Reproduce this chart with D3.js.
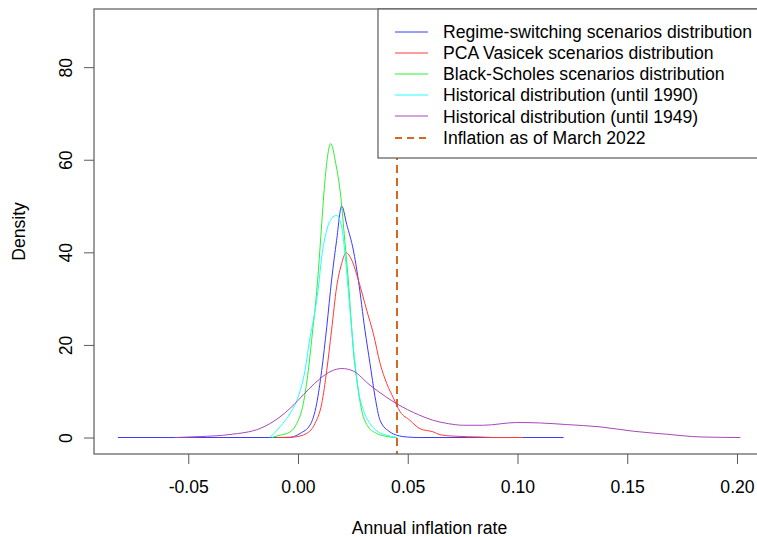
<!DOCTYPE html>
<html>
<head>
<meta charset="utf-8">
<script src="https://cdn.jsdelivr.net/npm/d3@7"></script>
<style>
  html, body { margin: 0; padding: 0; background: #fff; }
  svg { display: block; font-family: "Liberation Sans", Arial, sans-serif; }
</style>
</head>
<body>
<svg id="chart" width="757" height="537"></svg>
<script>
// ---- data ----
const xTicks = [-0.05, 0, 0.05, 0.10, 0.15, 0.20];
const xTickLabels = ["-0.05", "0.00", "0.05", "0.10", "0.15", "0.20"];
const yTicks = [0, 20, 40, 60, 80];
const yTickLabels = ["0", "20", "40", "60", "80"];

const regimeX = [-0.082, -0.004, 0.001, 0.0055, 0.0085, 0.0108, 0.0131, 0.0153, 0.0176, 0.0199, 0.0222, 0.0252, 0.0275, 0.0305, 0.0328, 0.0351, 0.0374, 0.0419, 0.045, 0.05, 0.055, 0.121];
const regimeY = [0, 0, 0.9, 2.7, 7.3, 14.5, 23.9, 34, 42.6, 50.0, 46, 40.5, 34, 23.2, 16, 8.8, 3.7, 1.2, 0.5, 0.1, 0, 0];

const pcaX = [-0.01, -0.002, 0.004, 0.0077, 0.0108, 0.0131, 0.0153, 0.0176, 0.0199, 0.0219, 0.0245, 0.0275, 0.0313, 0.0343, 0.0374, 0.0404, 0.0434, 0.0465, 0.051, 0.0556, 0.0617, 0.0647, 0.0708, 0.0837, 0.09, 0.1025];
const pcaY = [0, 0.1, 0.9, 3.0, 7.3, 14.5, 23.2, 32.5, 37.6, 39.9, 38.3, 34, 27.5, 22.5, 16, 11.7, 8.6, 5.6, 3.7, 1.9, 1.2, 0.6, 0.3, 0.1, 0, 0];

const bsX = [-0.012, -0.0082, -0.0036, -0.0006, 0.0024, 0.0047, 0.0067, 0.0077, 0.0093, 0.0108, 0.0123, 0.0149, 0.0172, 0.0195, 0.0213, 0.0229, 0.0241, 0.0252, 0.027, 0.029, 0.032, 0.0358, 0.0396, 0.045];
const bsY = [0, 0.5, 1.2, 3.0, 7.3, 14.5, 23.2, 27.5, 36.1, 46.2, 55.6, 63.5, 59.2, 52, 42.6, 34, 26, 18.9, 11.7, 5.9, 2.3, 0.9, 0.3, 0];

const hist1990X = [-0.0128, -0.0082, -0.0036, 0.0001, 0.0032, 0.0055, 0.007, 0.0093, 0.0108, 0.0131, 0.0153, 0.0176, 0.0199, 0.0214, 0.0229, 0.0245, 0.026, 0.0275, 0.0298, 0.0328, 0.0366, 0.0404, 0.045];
const hist1990Y = [0, 2.3, 5.2, 8.8, 14.5, 21.7, 25.3, 32.5, 39, 44.8, 47.3, 48, 45.5, 39.7, 31.8, 23.2, 16, 10.2, 5.9, 3.0, 1.2, 0.5, 0];

const hist1949X = [-0.056, -0.0446, -0.031, -0.0173, -0.0128, -0.0036, 0.0, 0.005, 0.01, 0.015, 0.02, 0.025, 0.0328, 0.04, 0.045, 0.05, 0.055, 0.0617, 0.0685, 0.0753, 0.0844, 0.0996, 0.11, 0.1224, 0.1376, 0.1528, 0.168, 0.1831, 0.2015];
const hist1949Y = [0, 0.2, 0.65, 1.95, 3.0, 6.3, 8.0, 10.5, 12.7, 14.3, 14.9, 14.4, 11.3, 8.8, 7.3, 6.0, 4.9, 3.7, 3.0, 2.65, 2.65, 3.24, 3.15, 2.8, 2.3, 1.36, 0.71, 0.13, 0];

const inflationMarch2022 = 0.0451;

const seriesNames = [
  "Regime-switching scenarios distribution",
  "PCA Vasicek scenarios distribution",
  "Black-Scholes scenarios distribution",
  "Historical distribution (until 1990)",
  "Historical distribution (until 1949)"
];
const seriesColors = ["#3a3aff", "#ff3a3a", "#2ef02e", "#22ffff", "#a848b8"];
const inflationLabel = "Inflation as of March 2022";
const inflationColor = "#D2691E";

const seriesData = [
  [regimeX, regimeY],
  [pcaX, pcaY],
  [bsX, bsY],
  [hist1990X, hist1990Y],
  [hist1949X, hist1949Y]
];

// ---- layout ----
const svg = d3.select("#chart");
const plotL = 94, plotR = 765, plotT = 9, plotB = 454;
const fontSize = 17.6;
const axisColor = "#5a5a5a";

const x = d3.scaleLinear().domain([-0.09294, 0.21276]).range([plotL, plotR]);
const y = d3.scaleLinear().domain([-3.56, 92.56]).range([plotB, plotT]);

// dashed vertical line (drawn under legend)
svg.append("line")
  .attr("x1", x(inflationMarch2022)).attr("x2", x(inflationMarch2022))
  .attr("y1", plotT).attr("y2", plotB)
  .attr("stroke", inflationColor).attr("stroke-width", 2)
  .attr("stroke-dasharray", "8,5");

// curves
const line = d3.line().x(d => x(d[0])).y(d => y(d[1])).curve(d3.curveMonotoneX);
seriesData.forEach((s, i) => {
  const pts = s[0].map((v, j) => [v, s[1][j]]);
  svg.append("path").datum(pts)
    .attr("d", line)
    .attr("fill", "none")
    .attr("stroke", seriesColors[i])
    .attr("stroke-width", 1);
});

// axes
const xAxis = d3.axisBottom(x).tickValues(xTicks).tickSize(10)
  .tickFormat((d, i) => xTickLabels[i]);
const gx = svg.append("g").attr("transform", `translate(0,${plotB})`).call(xAxis);
gx.select(".domain").remove();
gx.selectAll("line").attr("stroke", axisColor);
gx.selectAll("text").attr("y", 39).attr("dy", null)
  .attr("font-size", fontSize).attr("fill", "#000").attr("font-family", null);

const yAxis = d3.axisLeft(y).tickValues(yTicks).tickSize(10)
  .tickFormat((d, i) => yTickLabels[i]);
const gy = svg.append("g").attr("transform", `translate(${plotL},0)`).call(yAxis);
gy.select(".domain").remove();
gy.selectAll("line").attr("stroke", axisColor);
gy.selectAll("text")
  .attr("x", null).attr("dy", null)
  .attr("text-anchor", "middle")
  .attr("transform", "translate(-22,0) rotate(-90)")
  .attr("font-size", fontSize).attr("fill", "#000").attr("font-family", null);

// plot box
svg.append("rect")
  .attr("x", plotL).attr("y", plotT)
  .attr("width", plotR - plotL).attr("height", plotB - plotT)
  .attr("fill", "none").attr("stroke", axisColor).attr("stroke-width", 1.2);

// axis titles
svg.append("text")
  .attr("x", (plotL + plotR) / 2).attr("y", 534)
  .attr("text-anchor", "middle").attr("font-size", fontSize)
  .text("Annual inflation rate");
svg.append("text")
  .attr("transform", `translate(25,${(plotT + plotB) / 2}) rotate(-90)`)
  .attr("text-anchor", "middle").attr("font-size", fontSize)
  .text("Density");

// legend
const legL = 378, legT = 9, legB = 158;
svg.append("rect")
  .attr("x", legL).attr("y", legT)
  .attr("width", plotR - legL).attr("height", legB - legT)
  .attr("fill", "#fff").attr("stroke", axisColor).attr("stroke-width", 1.2);

const legNames = seriesNames.concat([inflationLabel]);
const legColors = seriesColors.concat([inflationColor]);
legNames.forEach((name, i) => {
  const cy = 31.5 + i * 21.2;
  const isDash = i === legNames.length - 1;
  svg.append("line")
    .attr("x1", 395).attr("x2", 428).attr("y1", Math.round(cy)).attr("y2", Math.round(cy))
    .attr("stroke", legColors[i])
    .attr("stroke-width", isDash ? 2 : 1)
    .attr("stroke-dasharray", isDash ? "7,5" : null);
  svg.append("text")
    .attr("x", 443).attr("y", cy + 6.2)
    .attr("font-size", fontSize)
    .text(name);
});
</script>
</body>
</html>
